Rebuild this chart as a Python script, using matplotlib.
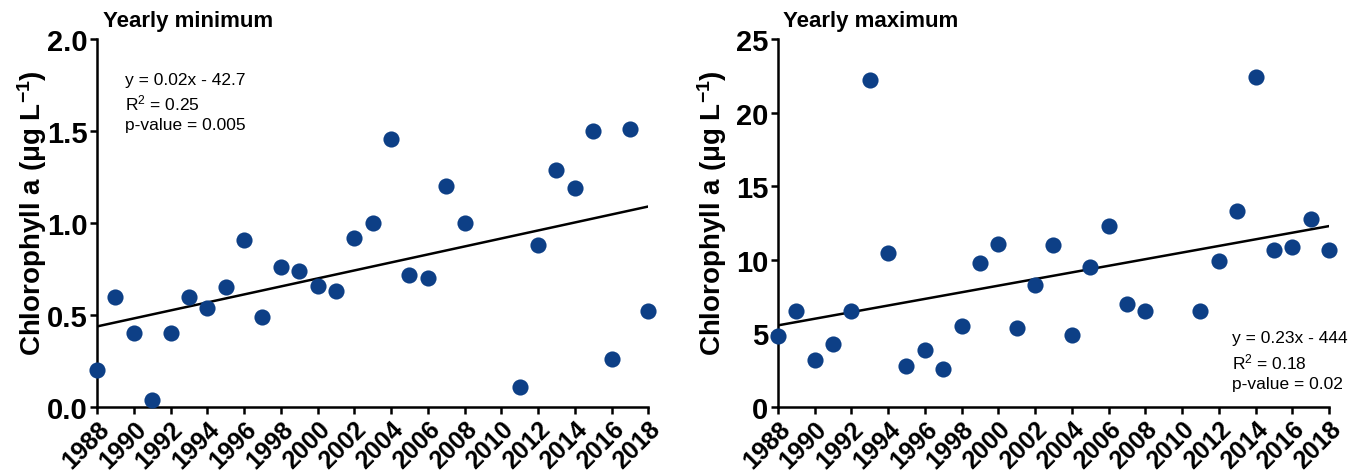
import numpy as np
import matplotlib
matplotlib.use('Agg')
import matplotlib.pyplot as plt

plt.rcParams['font.family'] = ['Liberation Sans', 'DejaVu Sans']
plt.rcParams['mathtext.fontset'] = 'custom'
plt.rcParams['mathtext.rm'] = 'Liberation Sans'
plt.rcParams['mathtext.bf'] = 'Liberation Sans:bold'
plt.rcParams['mathtext.it'] = 'Liberation Sans:italic'

years = [1988, 1989, 1990, 1991, 1992, 1993, 1994, 1995, 1996, 1997, 1998, 1999,
         2000, 2001, 2002, 2003, 2004, 2005, 2006, 2007, 2008, 2011, 2012, 2013,
         2014, 2015, 2016, 2017, 2018]
chl_min = [0.20, 0.60, 0.40, 0.04, 0.40, 0.60, 0.54, 0.65, 0.91, 0.49, 0.76, 0.74,
           0.66, 0.63, 0.92, 1.00, 1.46, 0.72, 0.70, 1.20, 1.00, 0.11, 0.88, 1.29,
           1.19, 1.50, 0.26, 1.51, 0.52]
chl_max = [4.8, 6.5, 3.2, 4.3, 6.5, 22.2, 10.5, 2.8, 3.9, 2.6, 5.5, 9.8,
           11.1, 5.4, 8.3, 11.0, 4.9, 9.5, 12.3, 7.0, 6.5, 6.5, 9.9, 13.3,
           22.4, 10.7, 10.9, 12.8, 10.7]
xticks = list(range(1988, 2019, 2))

dot = '#0d3f86'

fig = plt.figure(figsize=(13.48, 4.77), dpi=100)
ax1 = fig.add_axes([0.072, 0.1447, 0.409, 0.771])
ax2 = fig.add_axes([0.577, 0.1447, 0.409, 0.771])


def style(ax, ylim, yticks, fmt, title):
    ax.set_xlim(1988, 2018)
    ax.set_ylim(*ylim)
    ax.set_xticks(xticks)
    ax.set_yticks(yticks)
    ax.set_yticklabels([fmt.format(v) for v in yticks], fontsize=21, fontweight='bold')
    ax.set_xticklabels([str(v) for v in xticks], fontsize=18, fontweight='bold',
                       rotation=45, ha='right', rotation_mode='anchor')
    for s in ['top', 'right']:
        ax.spines[s].set_visible(False)
    for s in ['left', 'bottom']:
        ax.spines[s].set_linewidth(1.8)
    ax.tick_params(width=1.8, length=5, pad=2)
    ax.set_ylabel('Chlorophyll a (\u03bcg $\\mathbf{L^{-1}}$)', fontsize=20, fontweight='bold')
    ax.yaxis.set_label_coords(-0.088, 0.53)
    ax.text(0.01, 1.05, title, transform=ax.transAxes, fontsize=16, fontweight='bold',
            ha='left', va='center')


for ax, vals in [(ax1, chl_min), (ax2, chl_max)]:
    ax.scatter(years, vals, s=135, color=dot, zorder=3, clip_on=False, linewidths=0)
    k, b = np.polyfit(years, vals, 1)
    xs = np.array([1988, 2018])
    ax.plot(xs, k * xs + b, color='black', lw=1.8, zorder=2)

style(ax1, (0, 2.0), [0, 0.5, 1.0, 1.5, 2.0], '{:.1f}', 'Yearly minimum')
style(ax2, (0, 25), [0, 5, 10, 15, 20, 25], '{:.0f}', 'Yearly maximum')

ax1.text(0.05, 0.912, 'y = 0.02x - 42.7\nR$^2$ = 0.25\np-value = 0.005',
         transform=ax1.transAxes, fontsize=12.5, va='top', ha='left', linespacing=1.38)
ax2.text(0.824, 0.21, 'y = 0.23x - 444\nR$^2$ = 0.18\np-value = 0.02',
         transform=ax2.transAxes, fontsize=12.5, va='top', ha='left', linespacing=1.38)

fig.savefig('out.png', dpi=100)
